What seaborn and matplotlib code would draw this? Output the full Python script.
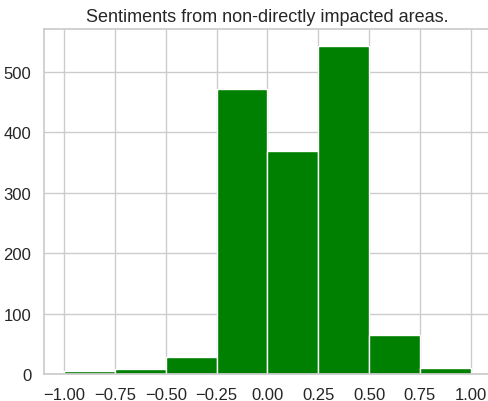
import numpy as np
import seaborn as sns
import matplotlib.pyplot as plt

# bins of sentiment score and counts
bin_edges = [-1.0, -0.75, -0.5, -0.25, 0.0, 0.25, 0.5, 0.75, 1.0]
counts = [5, 8, 28, 472, 369, 543, 64, 10]
bin_centers = [(a + b) / 2 for a, b in zip(bin_edges[:-1], bin_edges[1:])]

sns.set_theme(style = 'whitegrid')
plt.rcParams['font.family'] = ['Liberation Sans', 'DejaVu Sans']

fig = plt.figure(figsize = (4.88, 4.02), dpi = 100)
ax = fig.add_axes([0.090, 0.067, 0.916, 0.858])

sns.histplot(x = bin_centers, weights = counts, bins = bin_edges,
             color = 'green', alpha = 1, edgecolor = 'white',
             linewidth = 1, ax = ax)
ax.set_xlim(-1.1, 1.1)
ax.set_ylim(0, 571)
ax.set_xticks(np.arange(-1, 1.01, 0.25))
ax.set_ylabel('')
ax.set_xlabel('')
ax.tick_params(labelsize = 12, pad = 3)
ax.set_title('Sentiments from non-directly impacted areas.', size = 13)
plt.savefig('out.png', dpi = 100)
